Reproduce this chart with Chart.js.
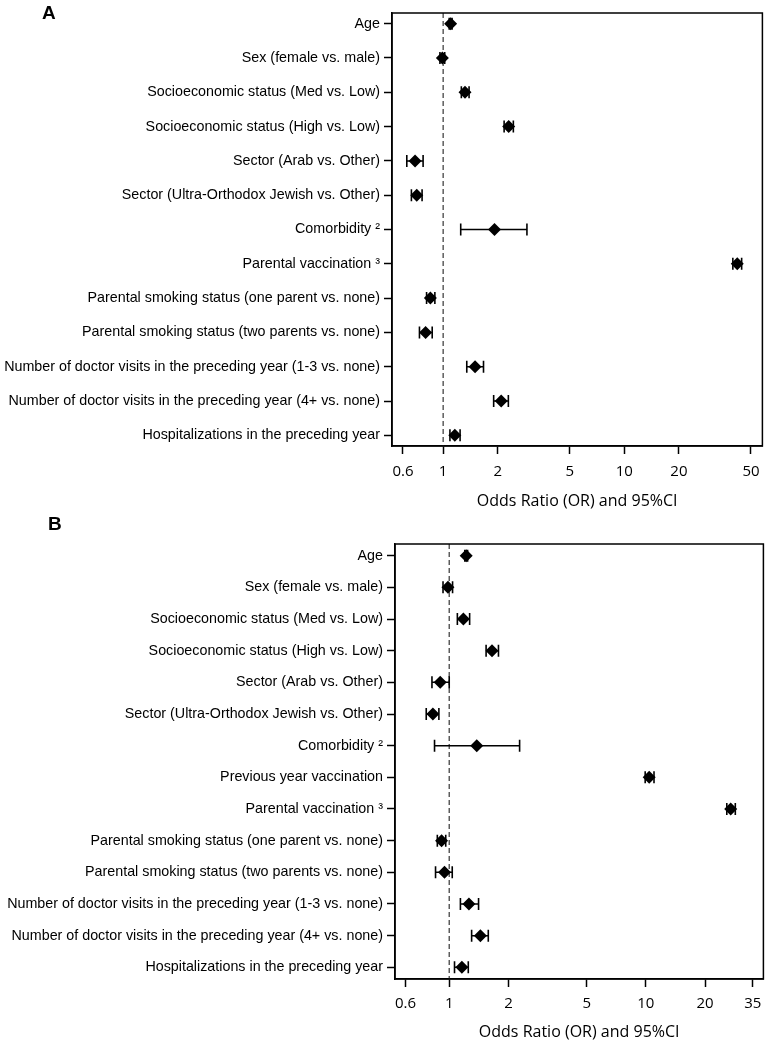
<!DOCTYPE html>
<html>
<head>
<meta charset="utf-8">
<script src="https://cdn.jsdelivr.net/npm/chart.js@4"></script>
<style>
  body { margin: 0; background: #fff; overflow: hidden; }
  #wrap { position: relative; width: 767px; height: 1044px; overflow: hidden; }
  .box { position: absolute; left: 0; }
  .tag { position: absolute; font: bold 19px "Liberation Sans", Arial, sans-serif; color: #000; }
</style>
</head>
<body>
<div id="wrap">
  <div class="box" style="top:0;width:770px;height:514px"><canvas id="chartA"></canvas></div>
  <div class="box" style="top:514px;width:771px;height:530px"><canvas id="chartB"></canvas></div>
  <div class="tag" style="left:42px;top:2px">A</div>
  <div class="tag" style="left:48px;top:513px">B</div>
</div>
<script>
// panel A - odds ratios with 95% CI
var labelsA = ['Age', 'Sex (female vs. male)', 'Socioeconomic status (Med vs. Low)',
  'Socioeconomic status (High vs. Low)', 'Sector (Arab vs. Other)',
  'Sector (Ultra-Orthodox Jewish vs. Other)', 'Comorbidity \u00b2', 'Parental vaccination \u00b3',
  'Parental smoking status (one parent vs. none)', 'Parental smoking status (two parents vs. none)',
  'Number of doctor visits in the preceding year (1-3 vs. none)',
  'Number of doctor visits in the preceding year (4+ vs. none)', 'Hospitalizations in the preceding year'];
var orA   = [1.10, 0.99, 1.32, 2.30, 0.70, 0.715, 1.92, 42.0, 0.85, 0.80, 1.50, 2.09, 1.16];
var lowA  = [1.08, 0.96, 1.26, 2.17, 0.63, 0.668, 1.25, 39.7, 0.81, 0.74, 1.35, 1.90, 1.09];
var highA = [1.12, 1.02, 1.39, 2.44, 0.775, 0.765, 2.90, 44.4, 0.90, 0.87, 1.67, 2.29, 1.24];
var ticksA = [0.6, 1, 2, 5, 10, 20, 50];

// panel B
var labelsB = ['Age', 'Sex (female vs. male)', 'Socioeconomic status (Med vs. Low)',
  'Socioeconomic status (High vs. Low)', 'Sector (Arab vs. Other)',
  'Sector (Ultra-Orthodox Jewish vs. Other)', 'Comorbidity \u00b2', 'Previous year vaccination',
  'Parental vaccination \u00b3', 'Parental smoking status (one parent vs. none)',
  'Parental smoking status (two parents vs. none)',
  'Number of doctor visits in the preceding year (1-3 vs. none)',
  'Number of doctor visits in the preceding year (4+ vs. none)', 'Hospitalizations in the preceding year'];
var orB   = [1.22, 0.985, 1.18, 1.65, 0.90, 0.826, 1.38, 10.4, 27.0, 0.914, 0.946, 1.26, 1.44, 1.16];
var lowB  = [1.20, 0.93, 1.10, 1.54, 0.817, 0.764, 0.842, 9.92, 25.8, 0.87, 0.852, 1.14, 1.30, 1.064];
var highB = [1.24, 1.04, 1.27, 1.78, 1.00, 0.886, 2.28, 11.0, 28.5, 0.96, 1.036, 1.41, 1.58, 1.25];
var ticksB = [0.6, 1, 2, 5, 10, 20, 35];

var frame = {
  id: 'frame',
  afterDraw: function(chart) {
    var a = chart.chartArea, ctx = chart.ctx;
    ctx.save();
    ctx.strokeStyle = '#000';
    ctx.lineWidth = 1.5;
    ctx.strokeRect(a.left, a.top, a.right - a.left, a.bottom - a.top);
    ctx.restore();
  }
};

function forestPlot(id, labels, or, low, high, ticks, o) {
  var ymin = -o.pad, ymax = labels.length - 1 + o.pad;
  var diamonds = or.map(function(v, i) { return {x: v, y: i}; });
  var whisk = [], caps = [];
  low.forEach(function(l, i) {
    whisk.push({x: l, y: i}, {x: high[i], y: i}, {x: 1, y: null});
    caps.push({x: l, y: i}, {x: high[i], y: i});
  });
  var ctx = document.getElementById(id).getContext('2d');
  return new Chart(ctx, {
    type: 'scatter',
    data: {
      datasets: [{
        data: diamonds,
        pointStyle: 'rectRot',
        pointRadius: 6.5,
        backgroundColor: '#000',
        borderWidth: 0,
        order: 0
      }, {
        data: caps,
        pointStyle: 'line',
        rotation: 90,
        pointRadius: 6,
        borderColor: '#000',
        borderWidth: 1.6,
        order: 1
      }, {
        data: whisk,
        showLine: true,
        spanGaps: false,
        pointRadius: 0,
        borderColor: '#000',
        borderWidth: 1.5,
        order: 2
      }, {
        data: [{x: 1, y: ymin}, {x: 1, y: ymax}],
        showLine: true,
        pointRadius: 0,
        borderColor: '#444',
        borderWidth: 1.3,
        borderDash: [5, 3],
        order: 3
      }]
    },
    options: {
      responsive: true,
      maintainAspectRatio: false,
      animation: false,
      events: [],
      layout: { padding: { top: o.top, right: 0, left: 0, bottom: 0 } },
      plugins: { legend: { display: false }, tooltip: { enabled: false } },
      scales: {
        x: {
          type: 'logarithmic',
          min: o.xmin,
          max: o.xmax,
          afterBuildTicks: function(s) { s.ticks = ticks.map(function(t) { return {value: t}; }); },
          afterFit: function(s) { s.height = o.xh; s.paddingLeft = 0; s.paddingRight = 0; },
          grid: { drawOnChartArea: false, drawTicks: true, tickLength: 8, tickColor: '#000', tickWidth: 1.5 },
          border: { display: true, color: '#000', width: 1.5 },
          ticks: {
            color: '#000', padding: o.tkpad, maxRotation: 0, autoSkip: false,
            font: { family: '"Open Sans", sans-serif', size: 15 },
            callback: function(v) { return String(v); }
          },
          title: {
            display: true, text: 'Odds Ratio (OR) and 95%CI', color: '#000',
            font: { family: '"Open Sans", sans-serif', size: 16 },
            padding: { top: 0, bottom: o.tpad }
          }
        },
        y: {
          type: 'linear',
          reverse: true,
          min: ymin,
          max: ymax,
          afterBuildTicks: function(s) { s.ticks = labels.map(function(_, i) { return {value: i}; }); },
          afterFit: function(s) { s.width = o.yw; s.paddingTop = 0; s.paddingBottom = 0; },
          grid: { drawOnChartArea: false, drawTicks: true, tickLength: 8, tickColor: '#000', tickWidth: 1.5 },
          border: { display: true, color: '#000', width: 1.5 },
          ticks: {
            color: '#000', padding: 4, autoSkip: false,
            font: { family: '"Liberation Sans", Arial, sans-serif', size: 14.3 },
            callback: function(v) { return labels[v]; }
          }
        }
      }
    },
    plugins: [frame]
  });
}

forestPlot('chartA', labelsA, orA, lowA, highA, ticksA,
  { pad: 0.31, xmin: 0.522, xmax: 57.8, top: 13, yw: 392, xh: 68, tpad: 3, tkpad: 9 });
forestPlot('chartB', labelsB, orB, lowB, highB, ticksB,
  { pad: 0.37, xmin: 0.53, xmax: 39.6, top: 30, yw: 395, xh: 65, tpad: 2, tkpad: 8 });
</script>
</body>
</html>
